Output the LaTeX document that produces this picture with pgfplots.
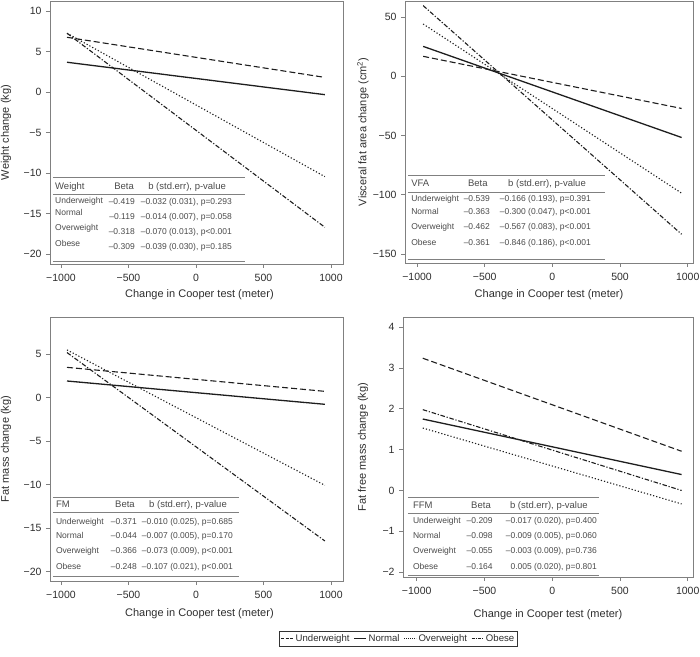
\documentclass[border=0pt]{standalone}
\usepackage{fontspec}
\setmainfont{Liberation Sans}
\usepackage{pgfplots}
\pgfplotsset{compat=1.18}
\definecolor{ln}{HTML}{1E1E1E}
\definecolor{fr}{HTML}{808080}
\definecolor{tx}{HTML}{2E2E2E}
\definecolor{tt}{HTML}{4A4A4A}
\tikzset{
  uw/.style={ln, line width=1.1pt, dash pattern=on 6pt off 3pt},
  nw/.style={ln, line width=1.3pt},
  ow/.style={ln, line width=1.1pt, dash pattern=on 1.2pt off 2pt},
  ob/.style={ln, line width=1.1pt, dash pattern=on 4.5pt off 1.8pt on 1.2pt off 1.8pt},
  tab/.style={font=\fontsize{8.5}{10}\selectfont, text=tt, inner sep=0pt},
  tabh/.style={font=\fontsize{9.5}{11}\selectfont, text=tt, inner sep=0pt},
  rule/.style={fr, line width=0.8pt},
}
\pgfplotsset{
  panel/.style={
    scale only axis, anchor=north west,
    axis line style={fr, line width=0.9pt},
    tick style={fr, line width=0.8pt},
    tick align=outside, major tick length=4pt,
    xtick pos=left, ytick pos=left,
    xticklabel shift=3pt, yticklabel shift=1pt,
    xtick={-1000,-500,0,500,1000},
    xticklabels={−1000,−500,0,500,1000},
    tick label style={font=\fontsize{10.5}{12}\selectfont, text=tx},
    xlabel={Change in Cooper test (meter)},
    label style={font=\fontsize{11}{13}\selectfont, text=tx},
    clip=false,
  },
}
\begin{document}
\begin{tikzpicture}
\useasboundingbox (0,0) rectangle (700pt,656pt);

% ---------------- Top left: Weight
\begin{axis}[panel, at={(50pt,655pt)}, width=293pt, height=263pt,
  xmin=-1081, xmax=1089, ymin=-21.23, ymax=11.23,
  ytick={-20,-15,-10,-5,0,5,10},
  yticklabels={−20,−15,−10,−5,0,5,10},
  ylabel={Weight change (kg)},
  ylabel style={at={(rel axis cs:-0.150,0.5)}, anchor=center},
  xlabel style={at={(rel axis cs:0.51,-0.118)}, anchor=center}]
\addplot[uw] coordinates {(-955,6.75) (955,1.8)};
\addplot[nw] coordinates {(-955,3.67) (955,-0.33)};
\addplot[ow] coordinates {(-955,7.25) (955,-10.45)};
\addplot[ob] coordinates {(-955,7.25) (955,-16.7)};
\draw[rule] (rel axis cs:0.010,0.331) -- (rel axis cs:0.666,0.331);
\draw[rule] (rel axis cs:0.010,0.266) -- (rel axis cs:0.666,0.266);
\draw[rule] (rel axis cs:0.010,0.011) -- (rel axis cs:0.666,0.011);
\node[tabh, anchor=mid west] at (rel axis cs:0.017,0.293) {Weight};
\node[tabh, anchor=mid] at (rel axis cs:0.253,0.293) {Beta};
\node[tabh, anchor=mid] at (rel axis cs:0.468,0.293) {b (std.err), p-value};
\node[tab, anchor=mid west] at (rel axis cs:0.017,0.240) {Underweight};
\node[tab, anchor=mid west] at (rel axis cs:0.017,0.194) {Normal};
\node[tab, anchor=mid west] at (rel axis cs:0.017,0.137) {Overweight};
\node[tab, anchor=mid west] at (rel axis cs:0.017,0.076) {Obese};
\node[tab, anchor=mid east] at (rel axis cs:0.290,0.236) {–0.419};
\node[tab, anchor=mid east] at (rel axis cs:0.290,0.179) {–0.119};
\node[tab, anchor=mid east] at (rel axis cs:0.290,0.122) {–0.318};
\node[tab, anchor=mid east] at (rel axis cs:0.290,0.065) {–0.309};
\node[tab, anchor=mid east] at (rel axis cs:0.621,0.236) {–0.032 (0.031), p=0.293};
\node[tab, anchor=mid east] at (rel axis cs:0.621,0.179) {–0.014 (0.007), p=0.058};
\node[tab, anchor=mid east] at (rel axis cs:0.621,0.122) {–0.070 (0.013), p<0.001};
\node[tab, anchor=mid east] at (rel axis cs:0.621,0.065) {–0.039 (0.030), p=0.185};
\end{axis}

% ---------------- Top right: VFA
\begin{axis}[panel, at={(405pt,655pt)}, width=288pt, height=262pt,
  xmin=-1089, xmax=1039, ymin=-157.6, ymax=63.5,
  ytick={-150,-100,-50,0,50},
  yticklabels={−150,−100,−50,0,50},
  ylabel={Visceral fat area change (cm\textsuperscript{2})},
  ylabel style={at={(rel axis cs:-0.146,0.5)}, anchor=center},
  xlabel style={at={(rel axis cs:0.5,-0.122)}, anchor=center}]
\addplot[uw] coordinates {(-955,16.8) (955,-27.2)};
\addplot[nw] coordinates {(-955,25.2) (955,-51.7)};
\addplot[ow] coordinates {(-955,44.1) (955,-98.7)};
\addplot[ob] coordinates {(-955,59.6) (955,-133.4)};
\draw[rule] (rel axis cs:0.010,0.336) -- (rel axis cs:0.694,0.336);
\draw[rule] (rel axis cs:0.010,0.271) -- (rel axis cs:0.694,0.271);
\draw[rule] (rel axis cs:0.010,0.015) -- (rel axis cs:0.694,0.015);
\node[tabh, anchor=mid west] at (rel axis cs:0.021,0.302) {VFA};
\node[tabh, anchor=mid] at (rel axis cs:0.253,0.302) {Beta};
\node[tabh, anchor=mid] at (rel axis cs:0.493,0.302) {b (std.err), p-value};
\node[tab, anchor=mid west] at (rel axis cs:0.021,0.244) {Underweight};
\node[tab, anchor=mid west] at (rel axis cs:0.021,0.195) {Normal};
\node[tab, anchor=mid west] at (rel axis cs:0.021,0.137) {Overweight};
\node[tab, anchor=mid west] at (rel axis cs:0.021,0.076) {Obese};
\node[tab, anchor=mid east] at (rel axis cs:0.295,0.244) {–0.539};
\node[tab, anchor=mid east] at (rel axis cs:0.295,0.195) {–0.363};
\node[tab, anchor=mid east] at (rel axis cs:0.295,0.137) {–0.462};
\node[tab, anchor=mid east] at (rel axis cs:0.295,0.076) {–0.361};
\node[tab, anchor=mid east] at (rel axis cs:0.646,0.244) {–0.166 (0.193), p=0.391};
\node[tab, anchor=mid east] at (rel axis cs:0.646,0.195) {–0.300 (0.047), p<0.001};
\node[tab, anchor=mid east] at (rel axis cs:0.646,0.137) {–0.567 (0.083), p<0.001};
\node[tab, anchor=mid east] at (rel axis cs:0.646,0.076) {–0.846 (0.186), p<0.001};
\end{axis}

% ---------------- Bottom left: FM
\begin{axis}[panel, at={(50pt,339pt)}, width=293pt, height=264pt,
  xmin=-1081, xmax=1089, ymin=-21.07, ymax=9.29,
  ytick={-20,-15,-10,-5,0,5},
  yticklabels={−20,−15,−10,−5,0,5},
  ylabel={Fat mass change (kg)},
  ylabel style={at={(rel axis cs:-0.150,0.5)}, anchor=center},
  xlabel style={at={(rel axis cs:0.51,-0.125)}, anchor=center}]
\addplot[uw] coordinates {(-955,3.5) (955,0.74)};
\addplot[nw] coordinates {(-955,1.93) (955,-0.75)};
\addplot[ow] coordinates {(-955,5.5) (955,-10.07)};
\addplot[ob] coordinates {(-955,5.2) (955,-16.47)};
\draw[rule] (rel axis cs:0.010,0.318) -- (rel axis cs:0.645,0.318);
\draw[rule] (rel axis cs:0.010,0.261) -- (rel axis cs:0.645,0.261);
\draw[rule] (rel axis cs:0.010,0.019) -- (rel axis cs:0.645,0.019);
\node[tabh, anchor=mid west] at (rel axis cs:0.020,0.288) {FM};
\node[tabh, anchor=mid] at (rel axis cs:0.256,0.288) {Beta};
\node[tabh, anchor=mid] at (rel axis cs:0.471,0.288) {b (std.err), p-value};
\node[tab, anchor=mid west] at (rel axis cs:0.020,0.223) {Underweight};
\node[tab, anchor=mid west] at (rel axis cs:0.020,0.170) {Normal};
\node[tab, anchor=mid west] at (rel axis cs:0.020,0.114) {Overweight};
\node[tab, anchor=mid west] at (rel axis cs:0.020,0.053) {Obese};
\node[tab, anchor=mid east] at (rel axis cs:0.297,0.223) {–0.371};
\node[tab, anchor=mid east] at (rel axis cs:0.297,0.170) {–0.044};
\node[tab, anchor=mid east] at (rel axis cs:0.297,0.114) {–0.366};
\node[tab, anchor=mid east] at (rel axis cs:0.297,0.053) {–0.248};
\node[tab, anchor=mid east] at (rel axis cs:0.625,0.223) {–0.010 (0.025), p=0.685};
\node[tab, anchor=mid east] at (rel axis cs:0.625,0.170) {–0.007 (0.005), p=0.170};
\node[tab, anchor=mid east] at (rel axis cs:0.625,0.114) {–0.073 (0.009), p<0.001};
\node[tab, anchor=mid east] at (rel axis cs:0.625,0.053) {–0.107 (0.021), p<0.001};
\end{axis}

% ---------------- Bottom right: FFM
\begin{axis}[panel, at={(403pt,339pt)}, width=290pt, height=260pt,
  xmin=-1101, xmax=1039, ymin=-2.12, ymax=4.25,
  ytick={-2,-1,0,1,2,3,4},
  yticklabels={−2,−1,0,1,2,3,4},
  ylabel={Fat free mass change (kg)},
  ylabel style={at={(rel axis cs:-0.138,0.5)}, anchor=center},
  xlabel style={at={(rel axis cs:0.5,-0.146)}, anchor=center},
  legend columns=4,
  legend style={at={(rel axis cs:-0.0155,-0.238)}, anchor=center,
    draw=black!80, line width=0.7pt, fill=white,
    font=\fontsize{9.6}{11.5}\selectfont, text=tx,
    inner xsep=1.5pt, inner ysep=1pt,
    /tikz/every even column/.append style={column sep=2pt}},
  legend image code/.code={\draw[#1] (0pt,0pt) -- (12pt,0pt);}]
\addplot[uw, forget plot] coordinates {(-955,3.24) (955,0.96)};
\addplot[nw, forget plot] coordinates {(-955,1.75) (955,0.39)};
\addplot[ow, forget plot] coordinates {(-955,1.53) (955,-0.33)};
\addplot[ob, forget plot] coordinates {(-955,1.98) (955,0.0)};
\addlegendimage{ln, line width=0.9pt, dash pattern=on 3pt off 1.5pt}
\addlegendentry{Underweight}
\addlegendimage{ln, line width=1.1pt}
\addlegendentry{Normal}
\addlegendimage{ln, line width=0.9pt, dash pattern=on 0.8pt off 1.2pt}
\addlegendentry{Overweight}
\addlegendimage{ln, line width=0.9pt, dash pattern=on 3pt off 1.2pt on 0.8pt off 1.2pt}
\addlegendentry{Obese}
\draw[rule] (rel axis cs:0.017,0.308) -- (rel axis cs:0.676,0.308);
\draw[rule] (rel axis cs:0.017,0.246) -- (rel axis cs:0.676,0.246);
\draw[rule] (rel axis cs:0.017,0.006) -- (rel axis cs:0.676,0.006);
\node[tabh, anchor=mid west] at (rel axis cs:0.034,0.273) {FFM};
\node[tabh, anchor=mid] at (rel axis cs:0.269,0.273) {Beta};
\node[tabh, anchor=mid] at (rel axis cs:0.503,0.273) {b (std.err), p-value};
\node[tab, anchor=mid west] at (rel axis cs:0.034,0.215) {Underweight};
\node[tab, anchor=mid west] at (rel axis cs:0.034,0.158) {Normal};
\node[tab, anchor=mid west] at (rel axis cs:0.034,0.100) {Overweight};
\node[tab, anchor=mid west] at (rel axis cs:0.034,0.038) {Obese};
\node[tab, anchor=mid east] at (rel axis cs:0.310,0.215) {–0.209};
\node[tab, anchor=mid east] at (rel axis cs:0.310,0.158) {–0.098};
\node[tab, anchor=mid east] at (rel axis cs:0.310,0.100) {–0.055};
\node[tab, anchor=mid east] at (rel axis cs:0.310,0.038) {–0.164};
\node[tab, anchor=mid east] at (rel axis cs:0.669,0.215) {–0.017 (0.020), p=0.400};
\node[tab, anchor=mid east] at (rel axis cs:0.669,0.158) {–0.009 (0.005), p=0.060};
\node[tab, anchor=mid east] at (rel axis cs:0.669,0.100) {–0.003 (0.009), p=0.736};
\node[tab, anchor=mid east] at (rel axis cs:0.669,0.038) {0.005 (0.020), p=0.801};
\end{axis}
\end{tikzpicture}
\end{document}
